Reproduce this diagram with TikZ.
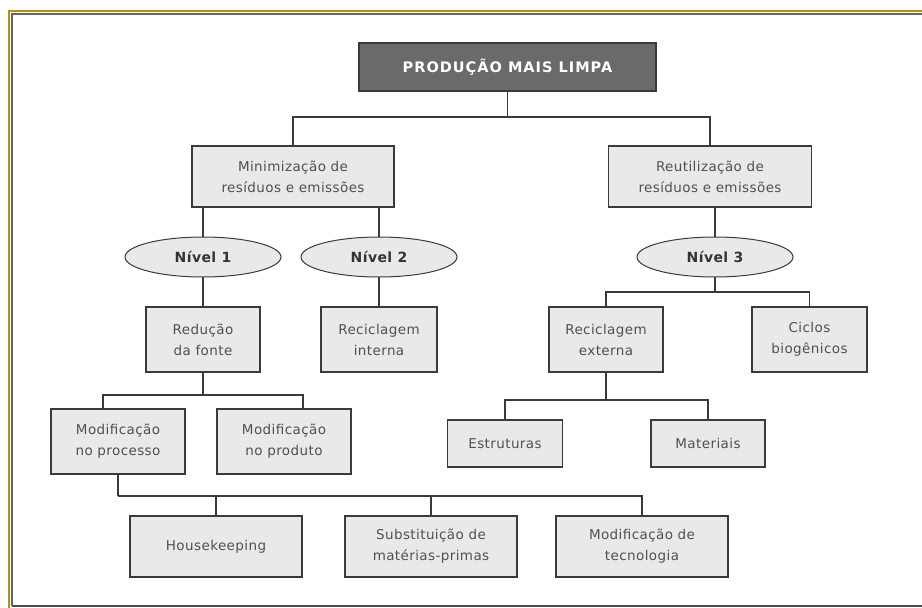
\documentclass[tikz,border=0pt]{standalone}
\usepackage{fontspec}
\setmainfont{DejaVu Sans}[LetterSpace=3]
\newfontfamily\heavyfont{DejaVu Sans}[LetterSpace=7]
\newfontfamily\lvlfont{DejaVu Sans}[LetterSpace=3]
\usepackage{xcolor}
\usepackage{tikz}
\usetikzlibrary{shapes.geometric}

\definecolor{frameGold}{HTML}{B8900C}
\definecolor{cellFill}{HTML}{E9E9E9}
\definecolor{cellLine}{HTML}{3A3A3A}
\definecolor{cellText}{HTML}{505050}
\definecolor{headFill}{HTML}{6A6A6A}

\begin{document}
\begin{tikzpicture}[x=1pt, y=-1pt, font=\fontsize{13.5}{21}\selectfont]
\tikzset{
  cell/.style ={draw=cellLine, fill=cellFill, line width=1.3pt, align=center,
                inner sep=0pt, outer sep=0pt, minimum height=65pt, text=cellText},
  lvl/.style  ={draw=cellLine, fill=cellFill, ellipse, line width=1pt,
                minimum width=156pt, minimum height=40pt, inner sep=0pt, outer sep=0pt,
                font=\lvlfont\bfseries\fontsize{14}{16}\selectfont, text=black!80},
  head/.style ={draw=cellLine, fill=headFill, line width=1.3pt, inner sep=0pt, outer sep=0pt,
                minimum width=297pt, minimum height=48pt, text=white,
                font=\heavyfont\bfseries\fontsize{14.5}{16}\selectfont},
  ln/.style={draw=cellLine, line width=1.3pt}
}
\useasboundingbox (0,0) rectangle (922,608);
% frame
\draw[frameGold, line width=2.5pt] (9,608) -- (9,11) -- (922,11);
\draw[black!60, line width=1.5pt] (12,606) -- (12,14) -- (922,14);
\draw[black!70, line width=2pt] (12,606) -- (922,606);

\node (pml)[head] at (507.5,67){PRODUÇÃO MAIS LIMPA};
\node (min)[cell,minimum width=202pt,minimum height=61pt] at (293,176.5){Minimização de\\resíduos e emissões};
\node (reu)[cell,minimum width=203pt,minimum height=61pt] at (710,176.5){Reutilização de\\resíduos e emissões};
\node (n1)[lvl] at (203,257){Nível 1};
\node (n2)[lvl] at (379,257){Nível 2};
\node (n3)[lvl] at (715,257){Nível 3};
\node (red)[cell,minimum width=114pt] at (203,339.5){Redução\\da fonte};
\node (rin)[cell,minimum width=116pt] at (379,339.5){Reciclagem\\interna};
\node (rex)[cell,minimum width=114pt] at (606,339.5){Reciclagem\\externa};
\node (cic)[cell,minimum width=115pt] at (809.5,339.5){Ciclos\\biogênicos};
\node (mpc)[cell,minimum width=134pt] at (118,441.5){Modificação\\no processo};
\node (mpd)[cell,minimum width=134pt] at (284,441.5){Modificação\\no produto};
\node (est)[cell,minimum width=115pt,minimum height=47pt] at (505,443.5){Estruturas};
\node (mat)[cell,minimum width=114pt,minimum height=47pt] at (708,443.5){Materiais};
\node (hk)[cell,minimum width=172pt,minimum height=61pt] at (216,546.5){Housekeeping};
\node (sub)[cell,minimum width=172pt,minimum height=61pt] at (431,546.5){Substituição de\\matérias-primas};
\node (tec)[cell,minimum width=172pt,minimum height=61pt] at (642,546.5){Modificação de\\tecnologia};

\draw[ln] (pml.south) -- ++(0,26) coordinate (b1);
\draw[ln] (min.north) |- (b1) -| (reu.north);
\draw[ln] (n1.north) -- (n1.north |- min.south);
\draw[ln] (n2.north) -- (n2.north |- min.south);
\draw[ln] (n3.north) -- (n3.north |- reu.south);
\draw[ln] (n1.south) -- (red.north);
\draw[ln] (n2.south) -- (rin.north);
\draw[ln] (red.south) -- ++(0,23) coordinate (b2);
\draw[ln] ([xshift=-15pt]mpc.north) |- (b2) -| ([xshift=19pt]mpd.north);
\draw[ln] (mpc.south) -- ++(0,22) coordinate (b3);
\draw[ln] (b3) -| (tec.north);
\draw[ln] (hk.north) -- (hk.north |- b3);
\draw[ln] (sub.north) -- (sub.north |- b3);
\draw[ln] (n3.south) -- ++(0,15) coordinate (b4);
\draw[ln] (rex.north) |- (b4) -| (cic.north);
\draw[ln] (rex.south) -- ++(0,28) coordinate (b5);
\draw[ln] (est.north) |- (b5) -| (mat.north);
\end{tikzpicture}
\end{document}
